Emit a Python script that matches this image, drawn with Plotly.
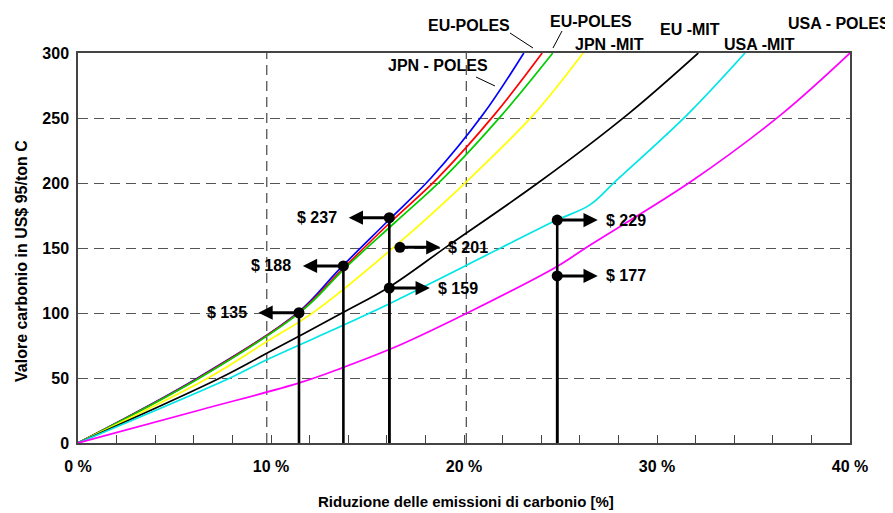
import plotly.graph_objects as go

# ---------------- data ----------------
jpn_poles_x = [0, 6.2, 11.45, 13.5, 16.0, 18.3, 21.0, 23.1]
jpn_poles_y = [0, 50, 101, 133, 170, 204, 253, 300]

eu_poles_a_x = [0, 6.25, 11.5, 13.65, 16.2, 18.65, 21.6, 24.05]
eu_poles_a_y = [0, 50, 101, 133, 170, 204, 253, 300]

eu_poles_b_x = [0, 6.3, 11.55, 13.8, 16.45, 18.95, 22.0, 24.6]
eu_poles_b_y = [0, 50, 101, 134, 170, 204, 253, 300]

jpn_mit_x = [0, 6.74, 9.78, 12.2, 16.4, 20.16, 23.63, 26.17]
jpn_mit_y = [0, 50, 78, 100.5, 151, 201.5, 253, 300]

eu_mit_x = [0, 7.36, 9.78, 13.75, 16.13, 19.2, 23.97, 28.5, 32.14]
eu_mit_y = [0, 50, 69, 100.5, 120, 152, 201.5, 253, 300]

usa_mit_x = [0, 7.88, 9.78, 15.2, 21.9, 24.8, 26.5, 27.9, 31.6, 34.56]
usa_mit_y = [0, 50, 64, 100.5, 150, 171.5, 183, 202, 253, 300]

usa_poles_x = [0, 6.32, 11.5, 13.75, 16.68, 20.48, 24.8, 26.4, 31.8, 36.46, 40]
usa_poles_y = [0, 25.4, 46.4, 58.2, 75.4, 102.3, 135.6, 151, 201.5, 253, 300]

series_names = ["JPN - POLES", "EU-POLES", "EU-POLES", "JPN -MIT", "EU -MIT", "USA -MIT", "USA - POLES"]
series_colors = ["#0000ff", "#ff0000", "#00cc00", "#ffff00", "#000000", "#00e5e5", "#ff00ff"]

callout_labels = ["$ 135", "$ 188", "$ 237", "$ 201", "$ 159", "$ 229", "$ 177"]
callout_x = [11.45, 13.75, 16.13, 16.68, 16.13, 24.83, 24.83]
callout_y = [100.2, 136.2, 173.3, 150.5, 119.2, 171.5, 128.5]
callout_dir = ["left", "left", "left", "right", "right", "right", "right"]
callout_stem = [True, True, True, False, True, True, True]

x_tick_vals = [0, 10, 20, 30, 40]
x_tick_text = ["0 %", "10 %", "20 %", "30 %", "40 %"]
y_tick_vals = [0, 50, 100, 150, 200, 250, 300]

# ---------------- layout geometry ----------------
OFF = 8                     # page body margin
W, H = 893 - OFF, 513 - OFF
L, R, T, B = 78, 850, 53, 443   # plot box in screen pixels
FONT = "Arial, Liberation Sans, sans-serif"


def paper(xp, yp):
    return (xp - L) / (R - L), (B - yp) / (B - T)


series = [
    (jpn_poles_x, jpn_poles_y), (eu_poles_a_x, eu_poles_a_y), (eu_poles_b_x, eu_poles_b_y),
    (jpn_mit_x, jpn_mit_y), (eu_mit_x, eu_mit_y), (usa_mit_x, usa_mit_y), (usa_poles_x, usa_poles_y),
]

fig = go.Figure()

for (xs, ys), name, col in zip(series, series_names, series_colors):
    fig.add_trace(go.Scatter(x=xs, y=ys, mode="lines", name=name,
                             line=dict(color=col, width=1.7, shape="spline", smoothing=1.0),
                             showlegend=False, hoverinfo="skip"))

# stems
sx, sy = [], []
for x, y, s in zip(callout_x, callout_y, callout_stem):
    if s:
        sx += [x, x, None]
        sy += [0, y, None]
fig.add_trace(go.Scatter(x=sx, y=sy, mode="lines", line=dict(color="black", width=2.6),
                         showlegend=False, hoverinfo="skip"))

# arrows + labels
ARROW = 2.1
for x, y, lab, d in zip(callout_x, callout_y, callout_labels, callout_dir):
    tip = x - ARROW if d == "left" else x + ARROW
    fig.add_annotation(x=tip, y=y, ax=x, ay=y, xref="x", yref="y", axref="x", ayref="y",
                       text="", showarrow=True, arrowhead=2, arrowsize=0.95, arrowwidth=3,
                       arrowcolor="black")
    if d == "left":
        fig.add_annotation(x=tip - 0.5, y=y, xref="x", yref="y", text=lab, showarrow=False,
                           xanchor="right", yanchor="middle",
                           font=dict(family=FONT, size=16, color="black", weight="bold"))
    else:
        fig.add_annotation(x=tip + 0.3, y=y, xref="x", yref="y", text=lab, showarrow=False,
                           xanchor="left", yanchor="middle",
                           font=dict(family=FONT, size=16, color="black", weight="bold"))

# dots
fig.add_trace(go.Scatter(x=callout_x, y=callout_y, mode="markers",
                         marker=dict(color="black", size=11),
                         showlegend=False, hoverinfo="skip"))

# vertical dashed reference lines
for xv in [9.78, 20.12]:
    fig.add_shape(type="line", x0=xv, x1=xv, y0=0, y1=300, xref="x", yref="y",
                  line=dict(color="#555555", width=1.3, dash="10px,6px"), layer="below")

# curve labels above the plot
label_px = [(438, 65), (469, 25), (591, 21), (609, 44), (690, 30), (759, 44), (839, 23)]
label_txt = ["JPN - POLES", "EU-POLES", "EU-POLES", "JPN -MIT", "EU -MIT", "USA -MIT", "USA - POLES"]
for (xp, yp), t in zip(label_px, label_txt):
    px_, py_ = paper(xp, yp)
    fig.add_annotation(x=px_, y=py_, xref="paper", yref="paper", text=t, showarrow=False,
                       xanchor="center", yanchor="middle",
                       font=dict(family=FONT, size=16, color="black", weight="bold"))

for (x0, y0), (x1, y1) in [((510, 33), (533, 48)), ((562, 31), (553, 48)), ((476, 77), (495, 86))]:
    a0, b0 = paper(x0, y0)
    a1, b1 = paper(x1, y1)
    fig.add_shape(type="line", x0=a0, y0=b0, x1=a1, y1=b1, xref="paper", yref="paper",
                  line=dict(color="black", width=1))

# axis titles
tx, ty = paper(21, 261)
fig.add_annotation(x=tx, y=ty, xref="paper", yref="paper", text="Valore carbonio in US$ 95/ton C",
                   textangle=-90, showarrow=False, xanchor="center", yanchor="middle",
                   font=dict(family=FONT, size=16, color="black", weight="bold"))
tx, ty = paper(466, 502)
fig.add_annotation(x=tx, y=ty, xref="paper", yref="paper", text="Riduzione delle emissioni di carbonio [%]",
                   showarrow=False, xanchor="center", yanchor="middle",
                   font=dict(family=FONT, size=15, color="black", weight="bold"))

fig.update_layout(
    width=W, height=H,
    margin=dict(l=L - OFF, r=893 - R, t=T - OFF, b=513 - B, pad=0),
    paper_bgcolor="white", plot_bgcolor="white",
    showlegend=False,
    xaxis=dict(range=[0, 40], tickvals=x_tick_vals, ticktext=x_tick_text,
               showgrid=False, zeroline=False, showline=True, mirror=True,
               linecolor="#444444", linewidth=1.5,
               ticks="inside", ticklen=8, tickcolor="#444444", tickwidth=1,
               minor=dict(dtick=2, tick0=0, ticks="inside", ticklen=8, tickcolor="#444444", showgrid=False),
               tickfont=dict(family=FONT, size=16, color="black", weight="bold"),
               ticklabelstandoff=8, automargin=False, fixedrange=True),
    yaxis=dict(range=[0, 300], tickvals=y_tick_vals,
               showgrid=True, gridcolor="#555555", gridwidth=1.3, griddash="10px,6px",
               zeroline=False, showline=True, mirror=True,
               linecolor="#444444", linewidth=1.5, ticks="",
               tickfont=dict(family=FONT, size=16, color="black", weight="bold"),
               ticklabelstandoff=4, automargin=False, fixedrange=True),
)

fig.write_html("out.html")
